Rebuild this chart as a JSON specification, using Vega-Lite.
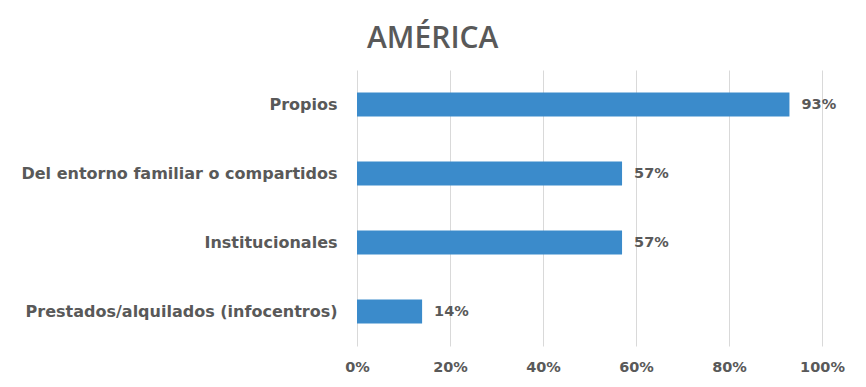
{
  "$schema": "https://vega.github.io/schema/vega-lite/v6.json",
  "width": 465,
  "height": 276,
  "padding": {"left": 20, "top": 24, "right": 10, "bottom": 5},
  "background": "white",
  "title": {
    "text": "AMÉRICA",
    "font": "Open Sans",
    "fontSize": 30,
    "fontWeight": 600,
    "color": "#595959",
    "anchor": "middle",
    "frame": "bounds",
    "offset": 16
  },
  "data": {
    "values": [
      {"cat": "Propios", "value": 0.93},
      {"cat": "Del entorno familiar o compartidos", "value": 0.57},
      {"cat": "Institucionales", "value": 0.57},
      {"cat": "Prestados/alquilados (infocentros)", "value": 0.14}
    ]
  },
  "encoding": {
    "y": {
      "field": "cat",
      "type": "nominal",
      "sort": null,
      "scale": {"paddingInner": 0.65, "paddingOuter": 0.325},
      "axis": {
        "title": null,
        "domain": false,
        "ticks": false,
        "labelPadding": 20,
        "labelFont": "DejaVu Sans",
        "labelFontWeight": "bold",
        "labelFontSize": 16,
        "labelColor": "#595959",
        "labelLimit": 400
      }
    },
    "x": {
      "field": "value",
      "type": "quantitative",
      "scale": {"domain": [0, 1], "nice": false},
      "axis": {
        "title": null,
        "format": ".0%",
        "values": [0, 0.2, 0.4, 0.6, 0.8, 1],
        "domain": false,
        "ticks": false,
        "labelFlush": false,
        "labelPadding": 14,
        "labelFont": "DejaVu Sans",
        "labelFontWeight": "bold",
        "labelFontSize": 14.5,
        "labelColor": "#595959",
        "gridColor": "#d9d9d9",
        "gridWidth": 1
      }
    }
  },
  "layer": [
    {"mark": {"type": "bar", "color": "#3b8bcb"}},
    {
      "mark": {
        "type": "text",
        "align": "left",
        "dx": 12,
        "font": "DejaVu Sans",
        "fontWeight": "bold",
        "fontSize": 14.5,
        "color": "#595959"
      },
      "encoding": {"text": {"field": "value", "type": "quantitative", "format": ".0%"}}
    }
  ],
  "config": {"view": {"stroke": null}}
}
